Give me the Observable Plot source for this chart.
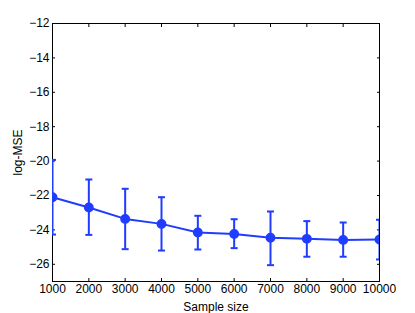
<!DOCTYPE html>
<html>
<head>
<meta charset="utf-8">
<script src="https://cdn.jsdelivr.net/npm/d3@7"></script>
<script src="https://cdn.jsdelivr.net/npm/@observablehq/plot@0.6"></script>
<style>
  html, body { margin: 0; padding: 0; background: white; }
</style>
</head>
<body>
<div id="chart"></div>
<script>
const sampleSizes = [1000, 2000, 3000, 4000, 5000, 6000, 7000, 8000, 9000, 10000];
const meanLogMSE  = [-22.10, -22.70, -23.36, -23.65, -24.15, -24.24, -24.46, -24.52, -24.58, -24.56];
const lowerLogMSE = [-24.27, -24.29, -25.12, -25.20, -25.14, -25.06, -26.05, -25.56, -25.56, -25.72];
const upperLogMSE = [-19.93, -21.07, -21.61, -22.10, -23.18, -23.38, -22.93, -23.49, -23.57, -23.41];
const xTicks = [1000, 2000, 3000, 4000, 5000, 6000, 7000, 8000, 9000, 10000];
const yTicks = [-26, -24, -22, -20, -18, -16, -14, -12];

const data = sampleSizes.map((n, i) => ({n, mean: meanLogMSE[i], lo: lowerLogMSE[i], hi: upperLogMSE[i]}));
const blue = "#1f3cff";

const capSymbol = {
  draw(ctx, size) {
    const w = Math.sqrt(size / Math.PI);
    ctx.moveTo(-w, 0);
    ctx.lineTo(w, 0);
  }
};

const chart = Plot.plot({
  width: 415,
  height: 313,
  marginLeft: 52,
  marginRight: 36,
  marginTop: 23,
  marginBottom: 32,
  style: {fontFamily: "'Liberation Sans', Arial, sans-serif", fontSize: "12px", background: "white", color: "black"},
  x: {domain: [1000, 10000]},
  y: {domain: [-27, -12]},
  marks: [
    Plot.axisX(xTicks, {anchor: "bottom", tickSize: -3, tickPadding: 6, tickFormat: d => String(d),
      label: "Sample size", labelAnchor: "center", labelArrow: "none", labelOffset: 29}),
    Plot.axisX(xTicks, {anchor: "top", tickSize: -3, tickFormat: () => "", label: null}),
    Plot.axisY(yTicks, {anchor: "left", tickSize: -3, tickPadding: 6, tickFormat: d => "\u2212" + Math.abs(d),
      label: "log-MSE", labelAnchor: "center", labelArrow: "none", labelOffset: 39}),
    Plot.axisY(yTicks, {anchor: "right", tickSize: -3, tickFormat: () => "", label: null}),
    Plot.frame({stroke: "black", strokeWidth: 1}),
    Plot.ruleX(data, {x: "n", y1: "lo", y2: "hi", stroke: blue, strokeWidth: 2, clip: true}),
    Plot.dot(data, {x: "n", y: "lo", symbol: capSymbol, r: 3.5, stroke: blue, strokeWidth: 2, clip: true}),
    Plot.dot(data, {x: "n", y: "hi", symbol: capSymbol, r: 3.5, stroke: blue, strokeWidth: 2, clip: true}),
    Plot.line(data, {x: "n", y: "mean", stroke: blue, strokeWidth: 2, clip: true}),
    Plot.dot(data, {x: "n", y: "mean", r: 4.2, fill: blue, stroke: blue, clip: true})
  ]
});
document.getElementById("chart").appendChild(chart);
</script>
</body>
</html>
